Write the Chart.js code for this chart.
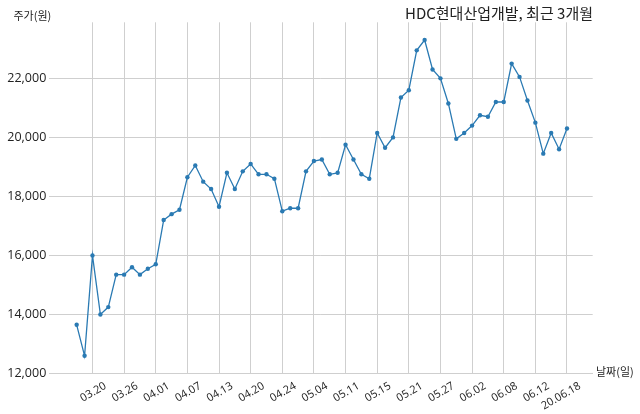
<!DOCTYPE html>
<html>
<head>
<meta charset="utf-8">
<script src="https://cdn.jsdelivr.net/npm/chart.js@4"></script>
<style>
html,body{margin:0;padding:0;background:#fff;}
#wrap{width:640px;height:414px;}
</style>
</head>
<body>
<div id="wrap"><canvas id="c" width="640" height="414"></canvas></div>
<script>
const titleText = 'HDC현대산업개발, 최근 3개월';
const yAxisLabel = '주가(원)';
const xAxisLabel = '날짜(일)';

const dates = ['03.18','03.19','03.20','03.23','03.24','03.25','03.26','03.27','03.30','03.31',
  '04.01','04.02','04.03','04.06','04.07','04.08','04.09','04.10','04.13','04.14',
  '04.16','04.17','04.20','04.21','04.22','04.23','04.24','04.27','04.28','04.29',
  '05.04','05.06','05.07','05.08','05.11','05.12','05.13','05.14','05.15','05.18',
  '05.19','05.20','05.21','05.22','05.25','05.26','05.27','05.28','05.29','06.01',
  '06.02','06.03','06.04','06.05','06.08','06.09','06.10','06.11','06.12','06.15',
  '06.16','06.17','20.06.18'];

const prices = [13650,12600,16000,14000,14250,15350,15350,15600,15350,15550,
  15700,17200,17400,17550,18650,19050,18500,18250,17650,18800,
  18250,18850,19100,18750,18750,18600,17500,17600,17600,18850,
  19200,19250,18750,18800,19750,19250,18750,18600,20150,19650,
  20000,21350,21600,22950,23300,22300,22000,21150,19950,20150,
  20400,20750,20700,21200,21200,22500,22050,21250,20500,19450,
  20150,19600,20300];

const xTickIdx = [2,6,10,14,18,22,26,30,34,38,42,46,50,54,58,62];
const yTicks = [12000,14000,16000,18000,20000,22000];

const lineColor = '#2a7ab3';
const gridColor = '#cfcfcf';
const textColor = '#222222';

const textPlugin = {
  id: 'texts',
  afterDraw(chart) {
    const ctx = chart.ctx;
    ctx.save();
    ctx.fillStyle = textColor;
    ctx.textBaseline = 'middle';
    ctx.font = '15px "Noto Sans CJK KR"';
    ctx.textAlign = 'right';
    ctx.fillText(titleText, 593, 13.5);
    ctx.font = '11px "Noto Sans CJK KR"';
    ctx.textAlign = 'left';
    ctx.fillText(yAxisLabel, 13.5, 16);
    ctx.fillText(xAxisLabel, 596, 372);
    ctx.restore();
  }
};

new Chart(document.getElementById('c'), {
  type: 'line',
  data: {
    datasets: [{
      data: prices.map((v, i) => ({x: i, y: v})),
      borderColor: lineColor,
      backgroundColor: lineColor,
      borderWidth: 1.3,
      pointRadius: 2.2,
      pointBorderWidth: 0,
      pointBackgroundColor: lineColor,
      tension: 0,
      fill: false
    }]
  },
  options: {
    responsive: false,
    animation: false,
    devicePixelRatio: 1,
    layout: { padding: { top: 22.3, right: 47.3, left: 0, bottom: 0 } },
    plugins: { legend: { display: false }, tooltip: { enabled: false }, title: { display: false } },
    scales: {
      x: {
        type: 'linear',
        min: -3.46,
        max: 65.25,
        afterBuildTicks(s) { s.ticks = xTickIdx.map(v => ({value: v})); },
        afterFit(s) { s.height = 40.5; },
        grid: { color: gridColor, lineWidth: 1, drawTicks: false },
        border: { display: true, color: gridColor, width: 1 },
        ticks: {
          autoSkip: false,
          minRotation: 30,
          maxRotation: 30,
          padding: 6,
          labelOffset: 13,
          color: textColor,
          font: { family: '"Open Sans"', size: 11 },
          callback(v) { return dates[v]; }
        }
      },
      y: {
        type: 'linear',
        min: 12000,
        max: 23900,
        afterBuildTicks(s) { s.ticks = yTicks.map(v => ({value: v})); },
        afterFit(s) { s.width = 49.3; },
        grid: { color: gridColor, lineWidth: 1, drawTicks: false },
        border: { display: false },
        ticks: {
          padding: 3,
          color: textColor,
          font: { family: '"Open Sans"', size: 12.5 },
          callback(v) { return v.toLocaleString('en-US'); }
        }
      }
    }
  },
  plugins: [textPlugin]
});
</script>
</body>
</html>
